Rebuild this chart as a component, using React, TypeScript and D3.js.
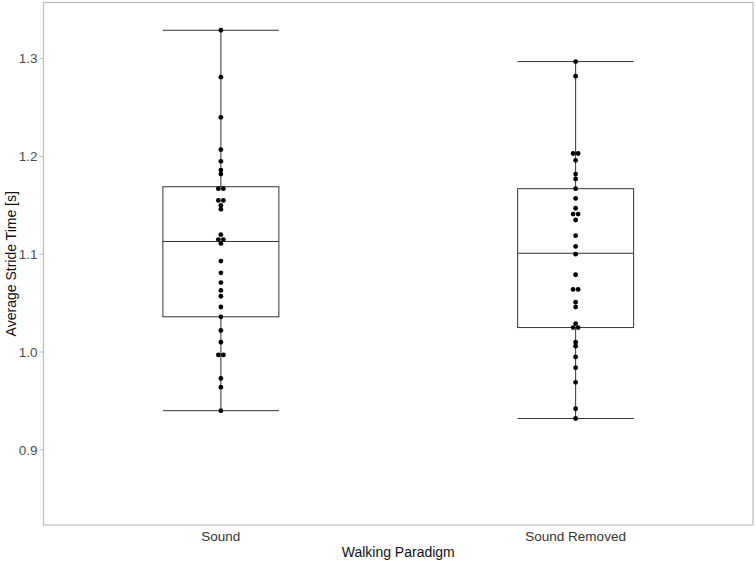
import React, { useEffect, useRef } from 'react';
import * as d3 from 'd3';

const WIDTH = 756;
const HEIGHT = 561;

const categories = ['Sound', 'Sound Removed'];

const soundValues = [
  1.329, 1.281, 1.240, 1.207, 1.195, 1.186, 1.182, 1.167, 1.167, 1.155, 1.155,
  1.150, 1.146, 1.120, 1.115, 1.115, 1.111, 1.093, 1.081, 1.071, 1.063, 1.057,
  1.046, 1.036, 1.022, 1.010, 0.997, 0.997, 0.973, 0.964, 0.940,
];

const soundRemovedValues = [
  1.297, 1.282, 1.203, 1.203, 1.196, 1.182, 1.177, 1.167, 1.157, 1.147, 1.141,
  1.141, 1.135, 1.119, 1.108, 1.100, 1.079, 1.064, 1.064, 1.051, 1.046, 1.029,
  1.025, 1.025, 1.010, 1.006, 0.995, 0.984, 0.969, 0.942, 0.932,
];

// whisker low, Q1, median, Q3, whisker high
const soundBox = [0.940, 1.036, 1.113, 1.169, 1.329];
const soundRemovedBox = [0.932, 1.025, 1.101, 1.167, 1.297];

const yTicks = [0.9, 1.0, 1.1, 1.2, 1.3];

export default function App() {
  const ref = useRef(null);

  useEffect(() => {
    document.body.style.margin = '0';
    const svg = d3.select(ref.current);
    svg.selectAll('*').remove();

    const left = 43.5, right = 753, top = 2.5, bottom = 525;

    const x = d3.scaleBand().domain(categories).range([left, right]).padding(0);
    const y = d3.scaleLinear().domain([0.8231, 1.3574]).range([bottom, top]);

    const font = 'Liberation Sans, Arial, Helvetica, sans-serif';

    // panel border
    svg.append('rect')
      .attr('x', left).attr('y', top)
      .attr('width', right - left).attr('height', bottom - top)
      .attr('fill', 'white').attr('stroke', '#bdbdbd').attr('stroke-width', 1.2);

    // y ticks
    const yAxis = svg.append('g');
    yTicks.forEach((t) => {
      yAxis.append('line')
        .attr('x1', left - 4).attr('x2', left)
        .attr('y1', y(t)).attr('y2', y(t))
        .attr('stroke', '#bdbdbd');
      yAxis.append('text')
        .attr('x', left - 6).attr('y', y(t))
        .attr('dy', '0.36em').attr('text-anchor', 'end')
        .attr('font-family', font).attr('font-size', 13.5).attr('fill', '#4d4d4d')
        .text(t.toFixed(1));
    });

    const groups = [
      { cat: categories[0], values: soundValues, box: soundBox },
      { cat: categories[1], values: soundRemovedValues, box: soundRemovedBox },
    ];

    const boxW = 116;
    groups.forEach((g) => {
      const cx = x(g.cat) + x.bandwidth() / 2;
      const [lo, q1, med, q3, hi] = g.box;
      const gg = svg.append('g').attr('stroke', '#333').attr('stroke-width', 1).attr('fill', 'none');
      gg.append('line').attr('x1', cx).attr('x2', cx).attr('y1', y(hi)).attr('y2', y(q3));
      gg.append('line').attr('x1', cx).attr('x2', cx).attr('y1', y(q1)).attr('y2', y(lo));
      [lo, hi].forEach((v) => {
        gg.append('line').attr('x1', cx - boxW / 2).attr('x2', cx + boxW / 2).attr('y1', y(v)).attr('y2', y(v));
      });
      gg.append('rect')
        .attr('x', cx - boxW / 2).attr('y', y(q3))
        .attr('width', boxW).attr('height', y(q1) - y(q3));
      gg.append('line').attr('x1', cx - boxW / 2).attr('x2', cx + boxW / 2).attr('y1', y(med)).attr('y2', y(med));

      // dots, duplicates placed side by side
      const counts = d3.rollup(g.values, (v) => v.length, (d) => d);
      const dots = [];
      counts.forEach((n, v) => {
        for (let i = 0; i < n; i++) dots.push({ v, off: (i - (n - 1) / 2) * 5 });
      });
      svg.append('g').selectAll('circle').data(dots).enter().append('circle')
        .attr('cx', (d) => cx + d.off)
        .attr('cy', (d) => y(d.v))
        .attr('r', 2.4)
        .attr('fill', 'black');

      svg.append('text')
        .attr('x', cx).attr('y', 541)
        .attr('text-anchor', 'middle')
        .attr('font-family', font).attr('font-size', 13.5).attr('fill', '#333')
        .text(g.cat);
    });

    svg.append('text')
      .attr('x', (left + right) / 2).attr('y', 557)
      .attr('text-anchor', 'middle')
      .attr('font-family', font).attr('font-size', 14).attr('fill', '#111')
      .text('Walking Paradigm');

    svg.append('text')
      .attr('transform', `translate(16,${(top + bottom) / 2}) rotate(-90)`)
      .attr('text-anchor', 'middle')
      .attr('font-family', font).attr('font-size', 14).attr('fill', '#111')
      .text('Average Stride Time [s]');
  }, []);

  return <svg ref={ref} width={WIDTH} height={HEIGHT} style={{ display: 'block', background: 'white' }} />;
}
